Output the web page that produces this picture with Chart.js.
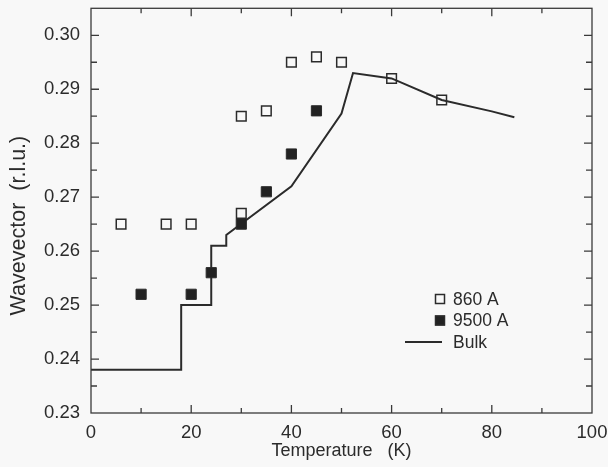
<!DOCTYPE html>
<html>
<head>
<meta charset="utf-8">
<script src="https://cdn.jsdelivr.net/npm/chart.js@4.4.0/dist/chart.umd.min.js"></script>
<style>
html, body { margin: 0; padding: 0; background: #f8f8f8; }
#wrap { width: 608px; height: 467px; }
</style>
</head>
<body>
<div id="wrap"><canvas id="waveChart" width="608" height="467"></canvas></div>
<script>
// 860 A film (open squares)
var film860T = [6, 15, 20, 30, 30, 35, 40, 45, 50, 60, 70];
var film860Q = [0.265, 0.265, 0.265, 0.267, 0.285, 0.286, 0.295, 0.296, 0.295, 0.292, 0.288];
// 9500 A film (filled squares)
var film9500T = [10, 20, 24, 30, 35, 40, 45];
var film9500Q = [0.252, 0.252, 0.256, 0.265, 0.271, 0.278, 0.286];
// bulk curve
var bulkT = [0, 18, 18, 24, 24, 27, 27, 40, 50, 52.3, 60, 70, 80, 84.5];
var bulkQ = [0.238, 0.238, 0.250, 0.250, 0.261, 0.261, 0.263, 0.272, 0.2855, 0.293, 0.292, 0.288, 0.2859, 0.2848];

var legendLabels = ['860 A', '9500 A', 'Bulk'];
var xTickStep = 10, xLabelStep = 20;
var yTickStep = 0.005, yLabelStep = 0.01;

var ink = '#2b2b2b';
var fontFamily = '"Liberation Sans", Arial, Helvetica, sans-serif';

function toPoints(xs, ys) {
    var pts = [];
    for (var i = 0; i < xs.length; i++) pts.push({ x: xs[i], y: ys[i] });
    return pts;
}

// frame, inward ticks on all four sides and the in-plot legend
var framePlugin = {
    id: 'frame',
    afterDraw: function (chart) {
        var ctx = chart.ctx;
        var a = chart.chartArea;
        var xs = chart.scales.x, ys = chart.scales.y;
        ctx.save();
        ctx.strokeStyle = '#3a3a3a';
        ctx.lineWidth = 1.3;
        ctx.strokeRect(a.left, a.top, a.right - a.left, a.bottom - a.top);

        xs.ticks.forEach(function (t) {
            var px = xs.getPixelForValue(t.value);
            if (t.value <= xs.min || t.value >= xs.max) return;
            var len = (Math.round(t.value) % xLabelStep === 0) ? 8 : 5;
            ctx.beginPath();
            ctx.moveTo(px, a.bottom); ctx.lineTo(px, a.bottom - len);
            ctx.moveTo(px, a.top); ctx.lineTo(px, a.top + len);
            ctx.stroke();
        });
        ys.ticks.forEach(function (t) {
            var py = ys.getPixelForValue(t.value);
            if (t.value <= ys.min + 1e-9 || t.value >= ys.max - 1e-9) return;
            var k = Math.round(t.value * 1000);
            var len = (k % Math.round(yLabelStep * 1000) === 0) ? 8 : 6;
            ctx.beginPath();
            ctx.moveTo(a.left, py); ctx.lineTo(a.left + len, py);
            ctx.moveTo(a.right, py); ctx.lineTo(a.right - len, py);
            ctx.stroke();
        });

        // legend
        var lx = 440, ly = 299, gap = 21.5;
        ctx.font = '17.5px ' + fontFamily;
        ctx.textBaseline = 'middle';
        ctx.textAlign = 'left';
        chart.data.datasets.forEach(function (ds, i) {
            var y = ly + i * gap;
            if (ds.showLine) {
                ctx.beginPath();
                ctx.strokeStyle = ds.borderColor;
                ctx.lineWidth = ds.borderWidth;
                ctx.moveTo(405, y); ctx.lineTo(442, y);
                ctx.stroke();
            } else {
                ctx.lineWidth = 1.5;
                ctx.strokeStyle = ink;
                if (ds.pointBackgroundColor !== 'transparent') {
                    ctx.fillStyle = ds.pointBackgroundColor;
                    ctx.fillRect(lx - 5, y - 5, 10, 10);
                }
                ctx.strokeRect(lx - 4.5, y - 4.5, 9, 9);
            }
            ctx.fillStyle = ink;
            ctx.fillText(legendLabels[i], 453, y + 1);
        });
        ctx.restore();
    }
};

var ctx = document.getElementById('waveChart').getContext('2d');
new Chart(ctx, {
    type: 'scatter',
    data: {
        datasets: [{
            label: legendLabels[0],
            data: toPoints(film860T, film860Q),
            pointStyle: 'rect',
            pointRadius: 6.8,
            pointBorderWidth: 1.5,
            pointBorderColor: ink,
            pointBackgroundColor: 'transparent',
            showLine: false
        }, {
            label: legendLabels[1],
            data: toPoints(film9500T, film9500Q),
            pointStyle: 'rect',
            pointRadius: 7.2,
            pointBorderWidth: 1,
            pointBorderColor: ink,
            pointBackgroundColor: '#222',
            showLine: false
        }, {
            label: legendLabels[2],
            data: toPoints(bulkT, bulkQ),
            showLine: true,
            borderColor: ink,
            borderWidth: 2,
            pointRadius: 0,
            fill: false,
            tension: 0
        }]
    },
    options: {
        responsive: false,
        animation: false,
        layout: { padding: { top: 6, right: 16, left: 0, bottom: 0 } },
        plugins: {
            legend: { display: false },
            tooltip: { enabled: false }
        },
        scales: {
            x: {
                type: 'linear',
                min: 0,
                max: 100,
                grid: { display: false, drawTicks: false },
                border: { display: false },
                afterFit: function (scale) {
                    scale.height = 54;
                    scale.paddingLeft = 0;
                    scale.paddingRight = 0;
                },
                ticks: {
                    stepSize: xTickStep,
                    autoSkip: false,
                    maxRotation: 0,
                    padding: 9,
                    color: ink,
                    font: { size: 18.5, family: fontFamily },
                    callback: function (v) { return Math.round(v) % xLabelStep === 0 ? v : ''; }
                },
                title: {
                    display: true,
                    text: 'Temperature   (K)',
                    color: ink,
                    padding: { top: 0, bottom: 5 },
                    font: { size: 18, family: fontFamily }
                }
            },
            y: {
                type: 'linear',
                min: 0.23,
                max: 0.305,
                grid: { display: false, drawTicks: false },
                border: { display: false },
                afterFit: function (scale) {
                    scale.width = 91;
                    scale.paddingTop = 0;
                    scale.paddingBottom = 0;
                },
                ticks: {
                    stepSize: yTickStep,
                    autoSkip: false,
                    padding: 11,
                    color: ink,
                    font: { size: 18.5, family: fontFamily },
                    callback: function (v) {
                        var k = Math.round(v * 1000);
                        return k % Math.round(yLabelStep * 1000) === 0 ? (k / 1000).toFixed(2) : '';
                    }
                },
                title: {
                    display: true,
                    text: 'Wavevector  (r.l.u.)     ',
                    color: ink,
                    padding: { top: 6, bottom: 0 },
                    font: { size: 21.5, family: fontFamily }
                }
            }
        }
    },
    plugins: [framePlugin]
});
</script>
</body>
</html>
